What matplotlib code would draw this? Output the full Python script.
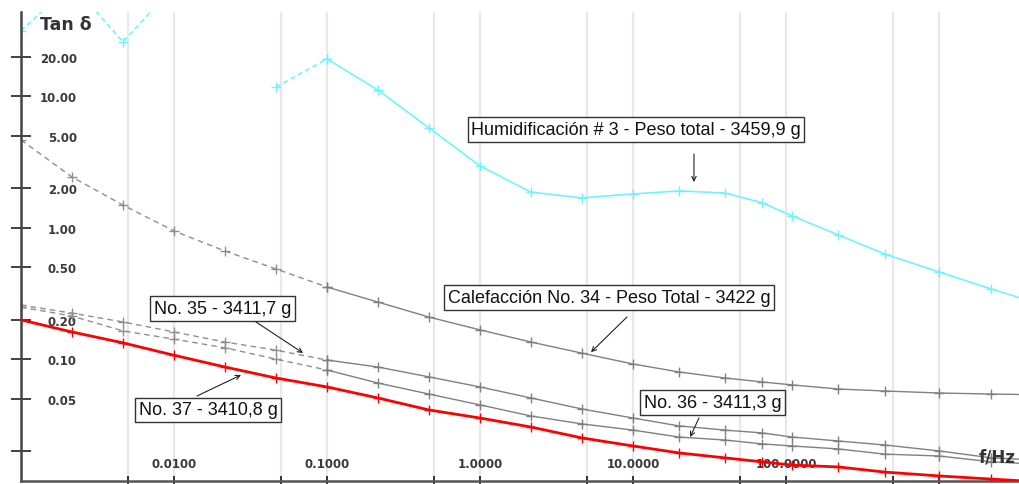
import numpy as np
import matplotlib
matplotlib.use("Agg")
import matplotlib.pyplot as plt
from matplotlib.ticker import NullLocator

W, H = 1019, 485

# frequency points of the sweep (Hz)
freq_hz = [0.001, 0.00215, 0.00464, 0.01, 0.0215, 0.0464, 0.1, 0.215, 0.464,
           1.0, 2.15, 4.64, 10.0, 20.0, 40.0, 70.0, 110.0, 220.0, 440.0,
           1000.0, 2200.0, 4700.0]

# tan delta per sample
tan_humid_3 = [31.6, 72.0, 26.0, 69.0, np.nan, 11.8, 19.3, 11.2, 5.76, 2.96,
               1.87, 1.69, 1.81, 1.91, 1.84, 1.55, 1.23, 0.882, 0.632, 0.461,
               0.342, 0.26]
tan_calef_34 = [4.67, 2.44, 1.49, 0.946, 0.666, 0.486, 0.354, 0.272, 0.209,
                0.167, 0.135, 0.111, 0.0918, 0.0798, 0.0718, 0.0670, 0.0636,
                0.0592, 0.0572, 0.0552, 0.0542, 0.0535]
tan_no_35 = [0.258, 0.224, 0.192, 0.161, 0.135, 0.117, 0.0984, 0.0871, 0.0732,
             0.0614, 0.0506, 0.0417, 0.0356, 0.0310, 0.0288, 0.0274, 0.0255,
             0.0238, 0.0222, 0.0200, 0.0177, 0.0170]
tan_no_36 = [0.249, 0.213, 0.164, 0.142, 0.122, 0.100, 0.0826, 0.0658, 0.0542,
             0.0448, 0.0369, 0.0321, 0.0288, 0.0255, 0.0242, 0.0226, 0.0218,
             0.0207, 0.0189, 0.0183, 0.0165, 0.0158]
tan_no_37 = [0.199, 0.161, 0.133, 0.107, 0.0871, 0.0718, 0.0614, 0.0506,
             0.0410, 0.0356, 0.0304, 0.0251, 0.0218, 0.0193, 0.0177, 0.0165,
             0.0156, 0.0151, 0.0138, 0.0129, 0.0122, 0.0116]

x_ticks = [0.005, 0.01, 0.05, 0.1, 0.5, 1, 5, 10, 50, 100, 500, 1000]
x_tick_labels = ["", "0.0100", "", "0.1000", "", "1.0000", "", "10.0000", "",
                 "100.0000", "", ""]
y_ticks = [0.02, 0.05, 0.1, 0.2, 0.5, 1, 2, 5, 10, 20]
y_tick_labels = ["", "0.05", "0.10", "0.20", "0.50", "1.00", "2.00", "5.00",
                 "10.00", "20.00"]

# (text, box centre px, arrow start px, arrow tip (Hz, tan d))
notes = [
  ("Humidificación # 3 - Peso total - 3459,9 g", (636, 130.5), (694, 155), (25.0, 2.23)),
  ("Calefacción No. 34 - Peso Total - 3422 g", (609, 298.5), (627, 318), (5.31, 0.113)),
  ("No. 35 - 3411,7 g", (222.5, 309.5), (256, 323), (0.0697, 0.1113)),
  ("No. 37 - 3410,8 g", (208, 411), (197, 397), (0.0274, 0.0757)),
  ("No. 36 - 3411,3 g", (712.5, 403.5), (699, 419), (23.6, 0.0255)),
]

fig = plt.figure(figsize=(W / 100, H / 100), dpi=100)
ax = fig.add_axes([21 / W, 3 / H, 998 / W, 469 / H])
ax.set_xscale("log")
ax.set_yscale("log")
ax.set_xlim(0.001, 3330)
ax.set_ylim(0.0118, 44)

f = np.array(freq_hz)


def draw(values, color, lw, dashed=True, dash_color=None, dashes=(4, 3), z=2):
  v = np.array(values, dtype=float)
  k = freq_hz.index(0.1)
  mk = dict(marker="+", ms=7, mew=1)
  if dashed:
    ax.plot(f[:k + 1], v[:k + 1], color=dash_color or color, lw=lw,
            dashes=dashes, zorder=z, **mk)
    ax.plot(f[k:], v[k:], color=color, lw=lw, zorder=z, **mk)
  else:
    ax.plot(f, v, color=color, lw=lw, zorder=z, **mk)


draw(tan_humid_3, "#6ff4ff", 1.2, dashes=(3, 2))
draw(tan_calef_34, "#808080", 1.0, dash_color="#8f8f8f")
draw(tan_no_35, "#808080", 1.0, dash_color="#8f8f8f")
draw(tan_no_36, "#808080", 1.0, dash_color="#8f8f8f")
draw(tan_no_37, "#ff0000", 2.0, dashed=False, z=3)

ax.set_xticks(x_ticks)
ax.set_xticklabels(x_tick_labels)
ax.xaxis.set_minor_locator(NullLocator())
ax.set_yticks(y_ticks)
ax.set_yticklabels(y_tick_labels)
ax.yaxis.set_minor_locator(NullLocator())

lab = dict(labelsize=8.5, labelcolor="#3a3a3a", color="#333333")
ax.tick_params(axis="x", direction="inout", length=7, width=1.4, pad=-20.8, **lab)
ax.tick_params(axis="y", direction="inout", length=14, width=1.3, pad=-47.3, **lab)
for t in ax.get_xticklabels() + ax.get_yticklabels():
  t.set_fontweight("bold")

ax.grid(axis="x", color="#e8e8e8", lw=1.6)
ax.set_axisbelow(True)
for s in ["top", "right"]:
  ax.spines[s].set_visible(False)
ax.spines["left"].set_color("#444444")
ax.spines["left"].set_linewidth(1.8)
ax.spines["bottom"].set_color("#555555")
ax.spines["bottom"].set_linewidth(1.8)

ax.text(0.019, 0.974, "Tan δ", transform=ax.transAxes, fontsize=12.5,
        fontweight="bold", color="#333333", va="center", ha="left")
ax.text(0.960, 0.053, "f/Hz", transform=ax.transAxes, fontsize=12,
        fontweight="bold", color="#333333", va="center", ha="left")

for text, (bx, by), (sx, sy), tip in notes:
  fig.text(bx / W, 1 - by / H, text, fontsize=13, family="Liberation Sans",
           color="#111111", ha="center", va="center", zorder=5,
           bbox=dict(boxstyle="square,pad=0.2", fc="white", ec="#333333", lw=1))
  ax.annotate("", xy=tip, xycoords="data", xytext=(sx, H - sy),
              textcoords="figure pixels",
              arrowprops=dict(arrowstyle="->", color="#222222", lw=0.8,
                              shrinkA=0, shrinkB=0, mutation_scale=8),
              zorder=5)

fig.savefig("out.png", dpi=100)
